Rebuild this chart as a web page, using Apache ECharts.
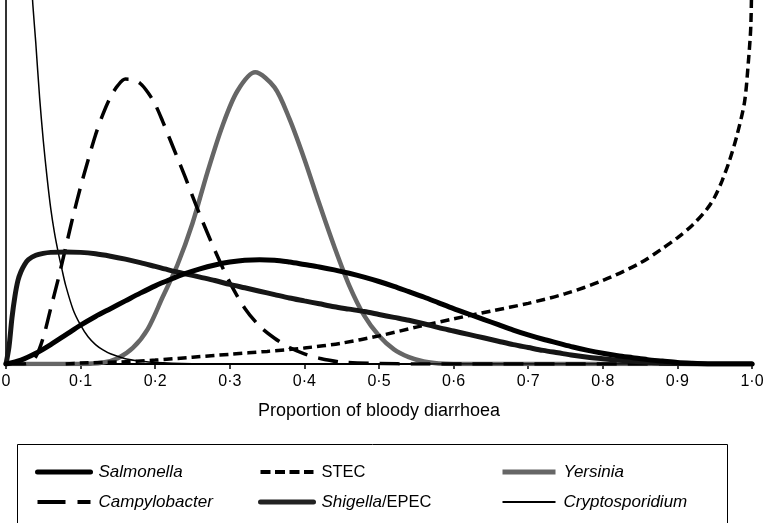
<!DOCTYPE html>
<html>
<head>
<meta charset="utf-8">
<script src="https://cdn.jsdelivr.net/npm/echarts@6/dist/echarts.min.js"></script>
<style>
html,body{margin:0;padding:0;background:#fff;}
#chart{width:765px;height:523px;}
</style>
</head>
<body>
<div id="chart"></div>
<script>
// ---- Data (x = proportion of bloody diarrhoea, y = density) ----
var xTicks = [0, 0.1, 0.2, 0.3, 0.4, 0.5, 0.6, 0.7, 0.8, 0.9, 1.0];
var axisTitle = 'Proportion of bloody diarrhoea';

var salmonellaX = [0, 0.02, 0.04, 0.06, 0.08, 0.10, 0.12, 0.14, 0.16, 0.18, 0.20, 0.22, 0.24, 0.26, 0.28, 0.30, 0.32, 0.34, 0.36, 0.38, 0.40, 0.42, 0.44, 0.46, 0.48, 0.50, 0.52, 0.54, 0.56, 0.58, 0.60, 0.62, 0.64, 0.66, 0.68, 0.70, 0.72, 0.74, 0.76, 0.78, 0.80, 0.82, 0.84, 0.86, 0.88, 0.90, 0.92, 0.95, 1.0];
var salmonellaY = [0, 0.08, 0.22, 0.40, 0.60, 0.80, 0.98, 1.14, 1.30, 1.46, 1.61, 1.74, 1.86, 1.96, 2.04, 2.10, 2.14, 2.15, 2.14, 2.10, 2.05, 2.00, 1.94, 1.87, 1.79, 1.70, 1.60, 1.49, 1.38, 1.26, 1.14, 1.03, 0.92, 0.81, 0.70, 0.60, 0.51, 0.43, 0.35, 0.28, 0.22, 0.17, 0.13, 0.09, 0.06, 0.03, 0.015, 0, 0];

var shigellaX = [0, 0.004, 0.008, 0.012, 0.016, 0.02, 0.025, 0.03, 0.04, 0.05, 0.06, 0.08, 0.10, 0.12, 0.14, 0.16, 0.18, 0.20, 0.22, 0.24, 0.26, 0.28, 0.30, 0.32, 0.34, 0.36, 0.38, 0.40, 0.42, 0.44, 0.46, 0.48, 0.50, 0.52, 0.54, 0.56, 0.58, 0.60, 0.62, 0.64, 0.66, 0.68, 0.70, 0.72, 0.74, 0.76, 0.78, 0.80, 0.82, 0.84, 0.86, 0.88, 0.90, 0.95, 1.0];
var shigellaY = [0, 0.35, 0.95, 1.40, 1.72, 1.90, 2.05, 2.15, 2.24, 2.28, 2.30, 2.31, 2.30, 2.27, 2.22, 2.16, 2.09, 2.01, 1.93, 1.86, 1.79, 1.72, 1.64, 1.57, 1.50, 1.43, 1.36, 1.30, 1.24, 1.18, 1.13, 1.08, 1.02, 0.96, 0.90, 0.83, 0.75, 0.68, 0.61, 0.54, 0.47, 0.40, 0.34, 0.28, 0.23, 0.18, 0.14, 0.11, 0.08, 0.055, 0.035, 0.02, 0.01, 0, 0];

var campyX = [0, 0.02, 0.03, 0.04, 0.05, 0.06, 0.07, 0.08, 0.09, 0.10, 0.11, 0.12, 0.13, 0.14, 0.15, 0.16, 0.17, 0.18, 0.19, 0.20, 0.21, 0.22, 0.23, 0.24, 0.25, 0.26, 0.27, 0.28, 0.29, 0.30, 0.32, 0.34, 0.36, 0.38, 0.40, 0.42, 0.45, 0.50, 0.55, 1.0];
var campyY = [0, 0, 0.02, 0.15, 0.55, 1.15, 1.75, 2.40, 3.05, 3.65, 4.20, 4.72, 5.15, 5.50, 5.74, 5.87, 5.86, 5.78, 5.60, 5.35, 5.00, 4.62, 4.24, 3.86, 3.46, 3.07, 2.70, 2.34, 2.00, 1.68, 1.15, 0.78, 0.53, 0.34, 0.21, 0.12, 0.04, 0.01, 0, 0];

var stecX = [0.08, 0.10, 0.15, 0.20, 0.25, 0.30, 0.35, 0.40, 0.45, 0.50, 0.55, 0.60, 0.65, 0.70, 0.75, 0.80, 0.85, 0.88, 0.90, 0.92, 0.94, 0.95, 0.96, 0.97, 0.98, 0.99, 0.995, 0.9985, 1.0];
var stecY = [0, 0.02, 0.04, 0.08, 0.14, 0.20, 0.26, 0.33, 0.43, 0.58, 0.76, 0.93, 1.09, 1.25, 1.45, 1.72, 2.08, 2.38, 2.60, 2.86, 3.20, 3.44, 3.78, 4.20, 4.72, 5.40, 6.20, 7.00, 8.50];

var yersiniaX = [0, 0.10, 0.13, 0.15, 0.17, 0.19, 0.21, 0.23, 0.25, 0.27, 0.29, 0.31, 0.334, 0.36, 0.38, 0.40, 0.42, 0.44, 0.46, 0.48, 0.50, 0.52, 0.54, 0.56, 0.58, 0.60, 1.0];
var yersiniaY = [0, 0, 0.03, 0.12, 0.33, 0.72, 1.38, 2.05, 2.90, 3.95, 4.90, 5.62, 6.01, 5.70, 5.05, 4.22, 3.30, 2.42, 1.62, 1.00, 0.58, 0.30, 0.14, 0.05, 0.01, 0, 0];

var cryptoX = [0.030, 0.033, 0.036, 0.040, 0.045, 0.05, 0.055, 0.06, 0.065, 0.07, 0.075, 0.08, 0.09, 0.10, 0.11, 0.12, 0.13, 0.14, 0.16, 0.18, 0.20, 0.25, 0.30, 1.0];
var cryptoY = [9.2, 8.2, 7.4, 6.6, 5.5, 4.6, 3.85, 3.2, 2.7, 2.3, 1.95, 1.62, 1.12, 0.80, 0.56, 0.40, 0.29, 0.21, 0.11, 0.06, 0.03, 0.005, 0, 0];

function zip(xs, ys) { return xs.map(function (x, i) { return [x, ys[i]]; }); }

var FONT = '"Liberation Sans", Arial, Helvetica, sans-serif';

var chart = echarts.init(document.getElementById('chart'), null, { renderer: 'canvas' });

function lineSeries(name, xs, ys, style) {
  return {
    name: name,
    type: 'line',
    data: zip(xs, ys),
    symbol: 'none',
    showSymbol: false,
    smooth: 0.3,
    clip: true,
    animation: false,
    lineStyle: style,
    itemStyle: { color: style.color },
    z: 2
  };
}

var styles = {
  'Salmonella': { color: '#000', width: 5, type: 'solid', cap: 'round' },
  'Campylobacter': { color: '#000', width: 3.5, type: [20, 11] },
  'STEC': { color: '#000', width: 3.5, type: [9, 5] },
  'Shigella/EPEC': { color: '#161616', width: 5, type: 'solid', cap: 'round' },
  'Yersinia': { color: '#666', width: 4.5, type: 'solid' },
  'Cryptosporidium': { color: '#000', width: 1.5, type: 'solid' }
};

var richText = {
  i: { fontStyle: 'italic', fontSize: 17, lineHeight: 18, fontFamily: FONT, color: '#000' },
  n: { fontStyle: 'normal', fontSize: 16.5, lineHeight: 18, fontFamily: FONT, color: '#000' }
};
function legendFormatter(name) {
  if (name === 'STEC') return '{n|STEC}';
  if (name === 'Shigella/EPEC') return '{i|Shigella}{n|/EPEC}';
  return '{i|' + name + '}';
}
var legendIconStyles = {
  'Salmonella': { color: '#000', width: 5, type: 'solid' },
  'Campylobacter': { color: '#000', width: 4, type: [28, 12] },
  'STEC': { color: '#000', width: 4, type: [10, 4.5] },
  'Shigella/EPEC': { color: '#222', width: 5, type: 'solid' },
  'Yersinia': { color: '#666', width: 5, type: 'solid' },
  'Cryptosporidium': { color: '#000', width: 2, type: 'solid' }
};
function makeLegend(names, left) {
  return {
    orient: 'vertical',
    left: left,
    top: 463,
    itemWidth: 53,
    itemHeight: 18,
    itemGap: 12,
    selectedMode: false,
    padding: 0,
    data: names.map(function (n) {
      return { name: n, lineStyle: legendIconStyles[n], itemStyle: { opacity: 0 } };
    }),
    formatter: legendFormatter,
    textStyle: { fontSize: 17, fontFamily: FONT, color: '#000', lineHeight: 18, padding: [0, 0, 0, 3], rich: richText }
  };
}

var option = {
  backgroundColor: '#fff',
  animation: false,
  grid: { left: 6, right: 13, top: 0, bottom: 159, containLabel: false, outerBoundsMode: 'none' },
  xAxis: {
    type: 'value',
    min: 0,
    max: 1,
    interval: 0.1,
    name: axisTitle,
    nameLocation: 'middle',
    nameGap: 38,
    nameTextStyle: { fontSize: 18, fontFamily: FONT, color: '#000' },
    axisLine: { show: true, onZero: false, lineStyle: { color: '#000', width: 2 } },
    axisTick: { show: true, length: 5, inside: false, lineStyle: { color: '#000', width: 1.5 } },
    axisLabel: {
      fontSize: 16, fontFamily: FONT, color: '#000', margin: 10,
      showMinLabel: true, showMaxLabel: true,
      formatter: function (v) {
        var t = xTicks.reduce(function (a, b) { return Math.abs(b - v) < Math.abs(a - v) ? b : a; });
        return t === 0 ? '0' : t.toFixed(1).replace('.', '\u00B7');
      }
    },
    splitLine: { show: false }
  },
  yAxis: {
    type: 'value',
    min: 0,
    max: 7.5,
    axisLine: { show: true, lineStyle: { color: '#333', width: 2 } },
    axisTick: { show: false },
    axisLabel: { show: false },
    splitLine: { show: false }
  },
  legend: [
    makeLegend(['Salmonella', 'Campylobacter'], 35),
    makeLegend(['STEC', 'Shigella/EPEC'], 258),
    makeLegend(['Yersinia', 'Cryptosporidium'], 500)
  ],
  graphic: [{
    type: 'rect',
    left: 15,
    top: 442,
    shape: { width: 710, height: 80 },
    style: { fill: 'none', stroke: '#000', lineWidth: 1 },
    silent: true,
    z: -1
  }],
  series: [
    lineSeries('Yersinia', yersiniaX, yersiniaY, styles['Yersinia']),
    lineSeries('STEC', stecX, stecY, styles['STEC']),
    lineSeries('Campylobacter', campyX, campyY, styles['Campylobacter']),
    lineSeries('Cryptosporidium', cryptoX, cryptoY, styles['Cryptosporidium']),
    lineSeries('Shigella/EPEC', shigellaX, shigellaY, styles['Shigella/EPEC']),
    lineSeries('Salmonella', salmonellaX, salmonellaY, styles['Salmonella'])
  ]
};
chart.setOption(option);
</script>
</body>
</html>
